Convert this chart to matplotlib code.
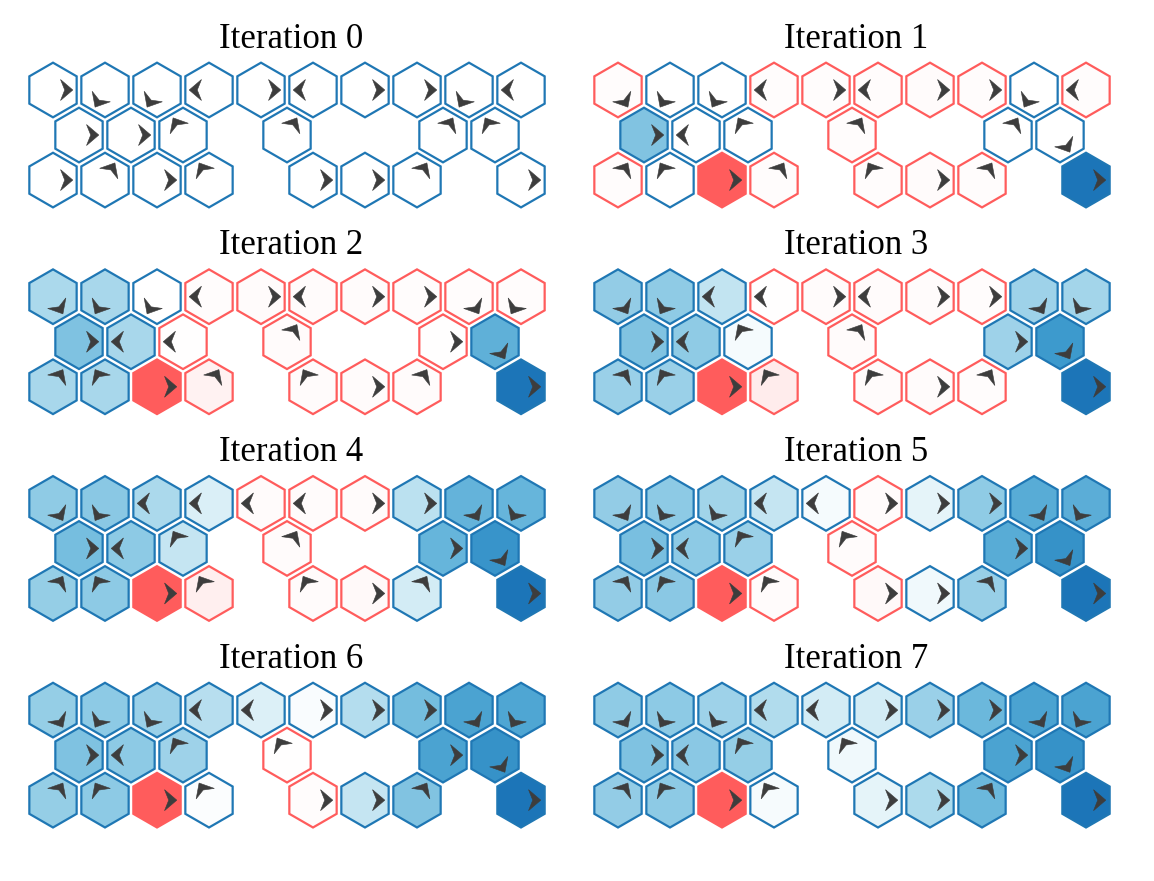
import numpy as np
import matplotlib.pyplot as plt
from matplotlib.patches import RegularPolygon, Polygon
from matplotlib.colors import LinearSegmentedColormap

# hex grid layout: row 0 has 10 cells, rows 1 and 2 are partial
cell_rows = [0] * 10 + [1] * 6 + [2] * 8
cell_cols = list(range(10)) + [0, 1, 2, 4, 7, 8] + [0, 1, 2, 3, 5, 6, 7, 9]

# state values per iteration (same order as the cells above)
values = [
    [0.0] * 24,
    [-0.02, 0, 0, -0.02, -0.02, -0.02, -0.03, -0.02, 0, -0.02,
     0.52, 0, 0, -0.02, 0, 0,
     -0.02, 0, -1, -0.02, -0.02, -0.03, -0.02, 1],
    [0.37, 0.38, 0, -0.02, -0.03, -0.03, -0.03, -0.02, -0.02, -0.02,
     0.53, 0.38, -0.01, -0.03, -0.01, 0.65,
     0.38, 0.38, -1, -0.08, -0.03, -0.03, -0.03, 1],
    [0.46, 0.47, 0.27, -0.01, -0.03, -0.03, -0.03, -0.02, 0.42, 0.40,
     0.52, 0.47, 0.05, -0.03, 0.42, 0.80,
     0.43, 0.43, -1, -0.12, -0.03, -0.03, -0.02, 1],
    [0.47, 0.49, 0.37, 0.17, -0.03, -0.03, -0.03, 0.30, 0.63, 0.62,
     0.56, 0.48, 0.26, -0.03, 0.62, 0.83,
     0.45, 0.48, -1, -0.10, -0.03, -0.04, 0.20, 1],
    [0.46, 0.48, 0.41, 0.26, 0.05, -0.03, 0.12, 0.47, 0.68, 0.67,
     0.55, 0.48, 0.43, -0.03, 0.68, 0.84,
     0.46, 0.49, -1, -0.03, -0.04, 0.07, 0.44, 1],
    [0.45, 0.48, 0.43, 0.32, 0.16, 0.03, 0.33, 0.57, 0.74, 0.72,
     0.53, 0.48, 0.42, -0.01, 0.74, 0.84,
     0.45, 0.48, -1, 0.02, -0.02, 0.26, 0.52, 1],
    [0.47, 0.48, 0.42, 0.34, 0.20, 0.20, 0.43, 0.60, 0.74, 0.74,
     0.53, 0.49, 0.45, 0.07, 0.74, 0.84,
     0.46, 0.48, -1, 0.04, 0.12, 0.36, 0.60, 1],
]

# greedy policy per iteration
policy = [
    ['R', 'DL', 'DL', 'L', 'R', 'L', 'R', 'R', 'DL', 'L',
     'R', 'R', 'UL', 'UR', 'UR', 'UL',
     'R', 'UR', 'R', 'UL', 'R', 'R', 'UR', 'R'],
    ['DR', 'DL', 'DL', 'L', 'R', 'L', 'R', 'R', 'DL', 'L',
     'R', 'L', 'UL', 'UR', 'UR', 'DR',
     'UR', 'UL', 'R', 'UR', 'UL', 'R', 'UR', 'R'],
    ['DR', 'DL', 'DL', 'L', 'R', 'L', 'R', 'R', 'DR', 'DL',
     'R', 'L', 'L', 'UR', 'R', 'DR',
     'UR', 'UL', 'R', 'UR', 'UL', 'R', 'UR', 'R'],
    ['DR', 'DL', 'L', 'L', 'R', 'L', 'R', 'R', 'DR', 'DL',
     'R', 'L', 'UL', 'UR', 'R', 'DR',
     'UR', 'UL', 'R', 'UL', 'UL', 'R', 'UR', 'R'],
    ['DR', 'DL', 'L', 'L', 'L', 'L', 'R', 'R', 'DR', 'DL',
     'R', 'L', 'UL', 'UR', 'R', 'DR',
     'UR', 'UL', 'R', 'UL', 'UL', 'R', 'UR', 'R'],
    ['DR', 'DL', 'DL', 'L', 'L', 'R', 'R', 'R', 'DR', 'DL',
     'R', 'L', 'UL', 'UL', 'R', 'DR',
     'UR', 'UL', 'R', 'UL', 'R', 'R', 'UR', 'R'],
    ['DR', 'DL', 'DL', 'L', 'L', 'R', 'R', 'R', 'DR', 'DL',
     'R', 'L', 'UL', 'UL', 'R', 'DR',
     'UR', 'UL', 'R', 'UL', 'R', 'R', 'UR', 'R'],
    ['DR', 'DL', 'DL', 'L', 'L', 'R', 'R', 'R', 'DR', 'DL',
     'R', 'L', 'UL', 'UL', 'R', 'DR',
     'UR', 'UL', 'R', 'UL', 'R', 'R', 'UR', 'R'],
]

angles = {'R': 0, 'UR': 60, 'UL': 120, 'L': 180, 'DL': 240, 'DR': 300}

blue_edge = '#1f77b4'
red_edge = '#ff5c5c'
blues = LinearSegmentedColormap.from_list(
    'pos', ['#ffffff', '#d3ecf5', '#a3d5ea', '#6bb8dc', '#3d9acd', '#1c75b8'])
reds = LinearSegmentedColormap.from_list('neg', ['#ffffff', '#ff5c5c'])

W, H = 1154, 881
fig = plt.figure(figsize=(W / 100, H / 100), dpi=100)

sq3 = np.sqrt(3)
unit = 52 / sq3          # pixels per hex radius
pad = 1.2
x0_px, y0_px = 53, 90    # centre of first hex, first panel
dx_px, dy_px = 565, 206.7

xs = np.array(cell_cols) * sq3 + (np.array(cell_rows) % 2) * sq3 / 2
ys = -1.5 * np.array(cell_rows)

# dart shaped arrow, pointing along +x, offset from the hex centre
dart = np.array([[0.66, 0], [0.25, 0.35], [0.39, 0], [0.25, -0.35]])

for it in range(8):
    pr, pc = divmod(it, 2)
    xlim = (-pad, 9 * sq3 + pad)
    ylim = (-3 - pad, pad)
    w = (xlim[1] - xlim[0]) * unit
    h = (ylim[1] - ylim[0]) * unit
    left = x0_px + pc * dx_px - pad * unit
    top = y0_px + pr * dy_px - pad * unit
    ax = fig.add_axes([left / W, 1 - (top + h) / H, w / W, h / H])
    ax.set_xlim(*xlim)
    ax.set_ylim(*ylim)
    ax.axis('off')

    for x, y, v, d in zip(xs, ys, values[it], policy[it]):
        v = float(v)
        if v >= 0:
            face, edge = blues(v), blue_edge
        else:
            face, edge = reds(-v), red_edge
        ax.add_patch(RegularPolygon((x, y), numVertices=6, radius=0.91,
                                    orientation=0, facecolor=face,
                                    edgecolor=edge, lw=1.6))
        t = np.deg2rad(angles[d])
        rot = np.array([[np.cos(t), -np.sin(t)], [np.sin(t), np.cos(t)]])
        pts = dart @ rot.T + [x, y]
        ax.add_patch(Polygon(pts, closed=True, facecolor='#3d3d3d',
                             edgecolor='#3d3d3d', lw=0.4))

    ax.text(4.5 * sq3 + 0.13, 1.41, f'Iteration {it}', ha='center',
            va='baseline', fontsize=25, family='Liberation Serif')

fig.savefig('out.png', dpi=100)
